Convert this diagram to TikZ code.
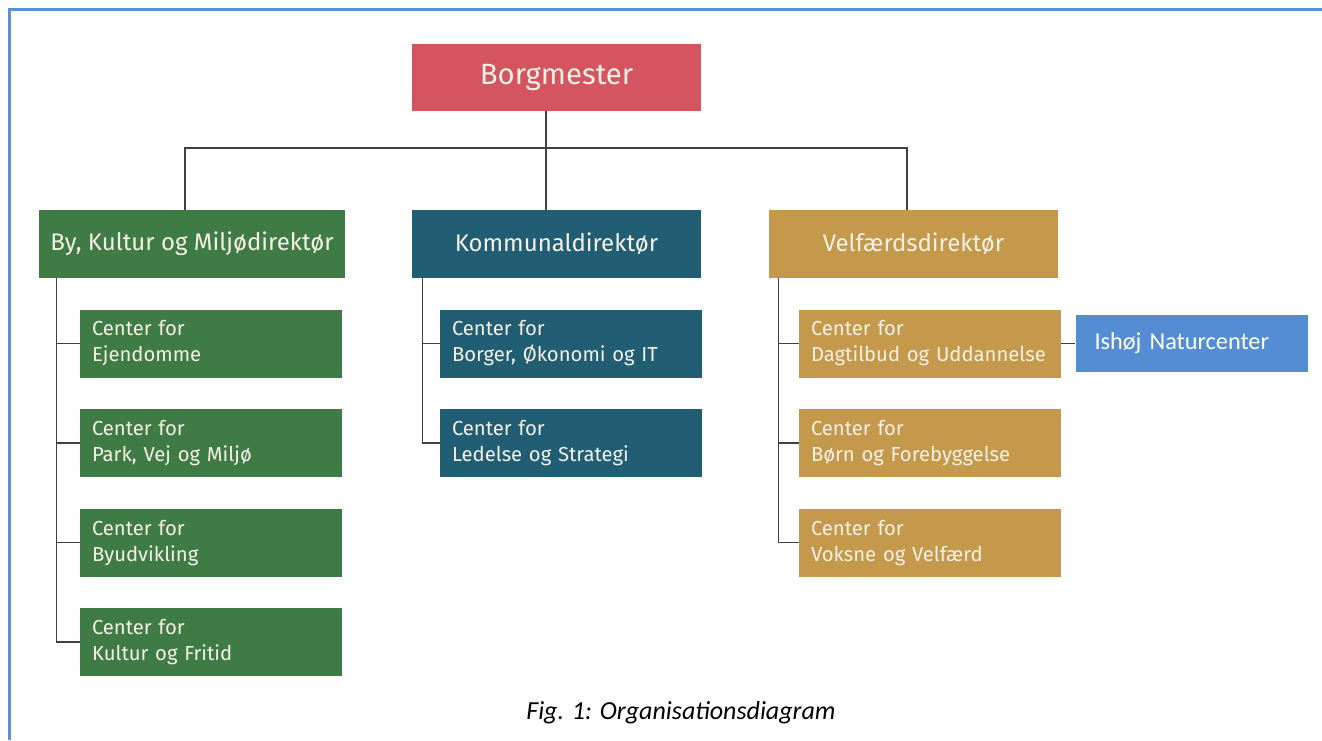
\documentclass[tikz,border=0pt]{standalone}
\usepackage{fontspec}
\setmainfont{Fira Sans}
\newfontfamily\capfont{Carlito}
\usetikzlibrary{positioning}
\definecolor{borgred}{HTML}{D4555F}
\definecolor{bygreen}{HTML}{3F7C45}
\definecolor{komteal}{HTML}{215E74}
\definecolor{velgold}{HTML}{C4994C}
\definecolor{naturblue}{HTML}{548DD4}
\definecolor{frameblue}{HTML}{5B8FD6}
\definecolor{boxtext}{HTML}{F6F1E7}
\definecolor{lineclr}{HTML}{404040}
\begin{document}
\begin{tikzpicture}[x=0.75pt,y=-0.75pt,node distance=23.25pt]
    \tikzstyle{rec}=[rectangle,inner sep=0pt,text=boxtext]
    \tikzstyle{chef}=[rec,minimum width=216.75pt,minimum height=51pt,font=\fontsize{18}{21}\selectfont]
    \tikzstyle{afd}=[rec,minimum height=51pt,text width=178.5pt,inner xsep=9pt,align=left,font=\hyphenpenalty 10000\relax\fontsize{15.2}{19.5}\selectfont]
    \tikzstyle{conn}=[draw=lineclr,line width=1pt]
    \useasboundingbox (0,0) rectangle (1322,740);
    \draw[frameblue,line width=2.6pt] (1322,9.5) -| (9.5,740);

    \node[chef,fill=borgred,minimum height=50.25pt,font=\fontsize{22}{26}\selectfont] (borg) at (556.5,77.5) {Borgmester};
    \node[chef,fill=bygreen,minimum width=229.5pt] (bkm) at (192,244) {By, Kultur og Miljødirektør};
    \node[chef,fill=komteal] (kom) at (556.5,244) {Kommunaldirektør};
    \node[chef,fill=velgold] (vel) at (913.5,244) {Velfærdsdirektør};

    % By, Kultur og Miljø
    \node[afd,fill=bygreen,below right=23.25pt and 30.75pt of bkm.south west] (ejd) {Center for\\Ejendomme};
    \node[afd,fill=bygreen,below=of ejd] (pvm) {Center for\\Park, Vej og Miljø};
    \node[afd,fill=bygreen,below=of pvm] (byu) {Center for\\Byudvikling};
    \node[afd,fill=bygreen,below=of byu] (kuf) {Center for\\Kultur og Fritid};

    % Kommunal
    \node[afd,fill=komteal,below right=23.25pt and 21pt of kom.south west] (boi) {Center for\\Borger, Økonomi og IT};
    \node[afd,fill=komteal,below=of boi] (los) {Center for\\Ledelse og Strategi};

    % Velfaerd
    \node[afd,fill=velgold,below right=23.25pt and 22.5pt of vel.south west] (dag) {Center for\\Dagtilbud og Uddannelse};
    \node[afd,fill=velgold,below=of dag] (bof) {Center for\\Børn og Forebyggelse};
    \node[afd,fill=velgold,below=of bof] (vov) {Center for\\Voksne og Velfærd};

    \node[rectangle,fill=naturblue,text=white,text width=145.5pt,align=left,minimum height=42.75pt,inner sep=0pt,inner xsep=14.25pt,
          font=\capfont\fontsize{18.2}{21}\selectfont,right=10.5pt of dag] (ish) {Ishøj Naturcenter};

    \node[font=\capfont\itshape\fontsize{19.5}{22}\selectfont] (cap) at (681,713) {Fig. 1: Organisationsdiagram};

    % forbindelser
    \coordinate (bus) at (546,148);
    \coordinate (busL) at (185,148);
    \coordinate (busR) at (907,148);
    \draw[conn] (borg.south -| bus) -- (kom.north -| bus);
    \draw[conn] (bkm.north -| busL) |- (busR) -- (vel.north -| busR);

    \coordinate (bkmspine) at ([xshift=13.5pt]bkm.south west);
    \coordinate (komspine) at ([xshift=8.25pt]kom.south west);
    \coordinate (velspine) at ([xshift=7.5pt]vel.south west);
    \draw[conn] (bkmspine) |- (kuf.west);
    \foreach \c in {ejd,pvm,byu} \draw[conn] (\c.west) -- (\c.west -| bkmspine);
    \draw[conn] (komspine) |- (los.west);
    \draw[conn] (boi.west) -- (boi.west -| komspine);
    \draw[conn] (velspine) |- (vov.west);
    \foreach \c in {dag,bof} \draw[conn] (\c.west) -- (\c.west -| velspine);
    \draw[conn] (dag.east) -- (ish.west);
\end{tikzpicture}
\end{document}
